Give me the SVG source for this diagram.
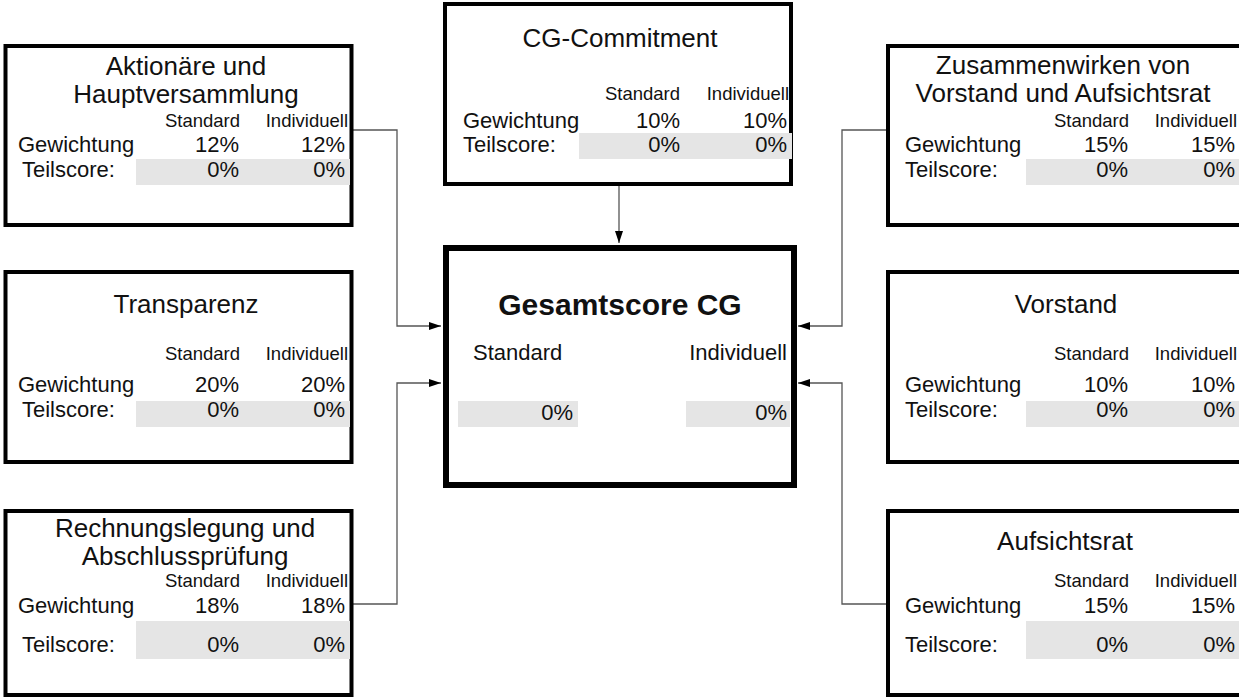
<svg xmlns="http://www.w3.org/2000/svg" width="1239" height="699" viewBox="0 0 1239 699">
<style>
text{font-family:"Liberation Sans",Arial,Helvetica,sans-serif;fill:#111}
.box{fill:#fff;stroke:#000;stroke-width:4}
.main{fill:#fff;stroke:#000;stroke-width:6}
.t{font-size:26px;text-anchor:middle}
.h{font-size:18.5px;text-anchor:end}
.l{font-size:22px}
.v{font-size:22px;text-anchor:end}
.g{fill:#e5e5e5}
.c{fill:none;stroke:#555;stroke-width:1.3}
</style>
<defs>
<marker id="arr" markerUnits="userSpaceOnUse" markerWidth="12" markerHeight="8" refX="12" refY="4" orient="auto">
<path d="M0,0 L12,4 L0,8 z" fill="#000"/>
</marker>
</defs>
<g id="connectors">
<path class="c" d="M353,130 H397 V326 H441" marker-end="url(#arr)"/>
<path class="c" d="M353,604 H397 V383 H441" marker-end="url(#arr)"/>
<path class="c" d="M619,185 V243" marker-end="url(#arr)"/>
<path class="c" d="M886,130 H842 V326 H798" marker-end="url(#arr)"/>
<path class="c" d="M886,604 H842 V383 H798" marker-end="url(#arr)"/>
</g>
<g id="aktionaere">
<rect class="box" x="5.5" y="46" width="346" height="179"/>
<text class="t" x="186" y="75">Aktionäre und</text>
<text class="t" x="186" y="103">Hauptversammlung</text>
<text class="h" x="240" y="127">Standard</text>
<text class="h" x="348" y="127">Individuell</text>
<text class="l" x="18" y="152">Gewichtung</text>
<text class="v" x="239" y="152">12%</text>
<text class="v" x="345" y="152">12%</text>
<rect class="g" x="136" y="159" width="214" height="26"/>
<text class="l" x="22" y="177">Teilscore:</text>
<text class="v" x="239" y="177">0%</text>
<text class="v" x="345" y="177">0%</text>
</g>
<g id="transparenz">
<rect class="box" x="5.5" y="272" width="346" height="190"/>
<text class="t" x="186" y="313">Transparenz</text>
<text class="h" x="240" y="360">Standard</text>
<text class="h" x="348" y="360">Individuell</text>
<text class="l" x="18" y="392">Gewichtung</text>
<text class="v" x="239" y="392">20%</text>
<text class="v" x="345" y="392">20%</text>
<rect class="g" x="136" y="401" width="214" height="26"/>
<text class="l" x="22" y="417">Teilscore:</text>
<text class="v" x="239" y="417">0%</text>
<text class="v" x="345" y="417">0%</text>
</g>
<g id="rechnungslegung">
<rect class="box" x="5.5" y="511" width="346" height="184"/>
<text class="t" x="185" y="537">Rechnungslegung und</text>
<text class="t" x="185" y="565">Abschlussprüfung</text>
<text class="h" x="240" y="587">Standard</text>
<text class="h" x="348" y="587">Individuell</text>
<text class="l" x="18" y="613">Gewichtung</text>
<text class="v" x="239" y="613">18%</text>
<text class="v" x="345" y="613">18%</text>
<rect class="g" x="136" y="621" width="214" height="38"/>
<text class="l" x="22" y="652">Teilscore:</text>
<text class="v" x="239" y="652">0%</text>
<text class="v" x="345" y="652">0%</text>
</g>
<g id="cg-commitment">
<rect class="box" x="445" y="4" width="346" height="180"/>
<text class="t" x="620" y="47">CG-Commitment</text>
<text class="h" x="680" y="100">Standard</text>
<text class="h" x="789" y="100">Individuell</text>
<text class="l" x="463" y="128">Gewichtung</text>
<text class="v" x="680" y="128">10%</text>
<text class="v" x="787" y="128">10%</text>
<rect class="g" x="579" y="133" width="213" height="26"/>
<text class="l" x="463" y="152">Teilscore:</text>
<text class="v" x="680" y="152">0%</text>
<text class="v" x="787" y="152">0%</text>
</g>
<g id="gesamtscore">
<rect class="main" x="446" y="248" width="348" height="237"/>
<text x="620" y="315" style="font-size:30px;font-weight:bold;text-anchor:middle">Gesamtscore CG</text>
<text class="l" x="473" y="360">Standard</text>
<text class="v" x="787" y="360">Individuell</text>
<rect class="g" x="458" y="401" width="120" height="26"/>
<rect class="g" x="686" y="401" width="104" height="26"/>
<text class="v" x="573" y="420">0%</text>
<text class="v" x="787" y="420">0%</text>
</g>
<g id="zusammenwirken">
<rect class="box" x="888" y="46" width="360" height="179"/>
<text class="t" x="1063" y="74">Zusammenwirken von</text>
<text class="t" x="1063" y="102">Vorstand und Aufsichtsrat</text>
<text class="h" x="1129" y="127">Standard</text>
<text class="h" x="1237" y="127">Individuell</text>
<text class="l" x="905" y="152">Gewichtung</text>
<text class="v" x="1128" y="152">15%</text>
<text class="v" x="1235" y="152">15%</text>
<rect class="g" x="1026" y="159" width="220" height="26"/>
<text class="l" x="905" y="177">Teilscore:</text>
<text class="v" x="1128" y="177">0%</text>
<text class="v" x="1235" y="177">0%</text>
</g>
<g id="vorstand">
<rect class="box" x="888" y="272" width="360" height="190"/>
<text class="t" x="1066" y="313">Vorstand</text>
<text class="h" x="1129" y="360">Standard</text>
<text class="h" x="1237" y="360">Individuell</text>
<text class="l" x="905" y="392">Gewichtung</text>
<text class="v" x="1128" y="392">10%</text>
<text class="v" x="1235" y="392">10%</text>
<rect class="g" x="1026" y="401" width="220" height="26"/>
<text class="l" x="905" y="417">Teilscore:</text>
<text class="v" x="1128" y="417">0%</text>
<text class="v" x="1235" y="417">0%</text>
</g>
<g id="aufsichtsrat">
<rect class="box" x="888" y="511" width="360" height="184"/>
<text class="t" x="1065" y="550">Aufsichtsrat</text>
<text class="h" x="1129" y="587">Standard</text>
<text class="h" x="1237" y="587">Individuell</text>
<text class="l" x="905" y="613">Gewichtung</text>
<text class="v" x="1128" y="613">15%</text>
<text class="v" x="1235" y="613">15%</text>
<rect class="g" x="1026" y="621" width="220" height="38"/>
<text class="l" x="905" y="652">Teilscore:</text>
<text class="v" x="1128" y="652">0%</text>
<text class="v" x="1235" y="652">0%</text>
</g>
</svg>
